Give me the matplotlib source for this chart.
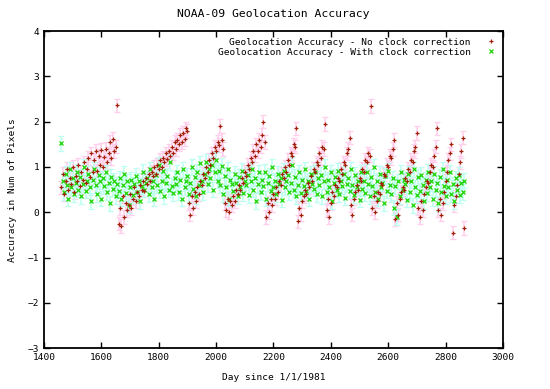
import numpy as np
import matplotlib
matplotlib.use("Agg")
import matplotlib.pyplot as plt

# observation days (day since 1/1/1981)
days = [
    1460, 1465, 1470, 1475, 1480, 1485, 1490, 1495, 1500, 1505,
    1510, 1515, 1520, 1525, 1530, 1535, 1540, 1545, 1550, 1555,
    1560, 1565, 1570, 1575, 1580, 1585, 1590, 1595, 1600, 1605,
    1610, 1615, 1620, 1625, 1630, 1635, 1640, 1645, 1650, 1655,
    1660, 1665, 1670, 1675, 1680, 1685, 1690, 1695, 1700, 1705,
    1710, 1715, 1720, 1725, 1730, 1735, 1740, 1745, 1750, 1755,
    1760, 1765, 1770, 1775, 1780, 1785, 1790, 1795, 1800, 1805,
    1810, 1815, 1820, 1825, 1830, 1835, 1840, 1845, 1850, 1855,
    1860, 1865, 1870, 1875, 1880, 1885, 1890, 1895, 1900, 1905,
    1910, 1915, 1920, 1925, 1930, 1935, 1940, 1945, 1950, 1955,
    1960, 1965, 1970, 1975, 1980, 1985, 1990, 1995, 2000, 2005,
    2010, 2015, 2020, 2025, 2030, 2035, 2040, 2045, 2050, 2055,
    2060, 2065, 2070, 2075, 2080, 2085, 2090, 2095, 2100, 2105,
    2110, 2115, 2120, 2125, 2130, 2135, 2140, 2145, 2150, 2155,
    2160, 2165, 2170, 2175, 2180, 2185, 2190, 2195, 2200, 2205,
    2210, 2215, 2220, 2225, 2230, 2235, 2240, 2245, 2250, 2255,
    2260, 2265, 2270, 2275, 2280, 2285, 2290, 2295, 2300, 2305,
    2310, 2315, 2320, 2325, 2330, 2335, 2340, 2345, 2350, 2355,
    2360, 2365, 2370, 2375, 2380, 2385, 2390, 2395, 2400, 2405,
    2410, 2415, 2420, 2425, 2430, 2435, 2440, 2445, 2450, 2455,
    2460, 2465, 2470, 2475, 2480, 2485, 2490, 2495, 2500, 2505,
    2510, 2515, 2520, 2525, 2530, 2535, 2540, 2545, 2550, 2555,
    2560, 2565, 2570, 2575, 2580, 2585, 2590, 2595, 2600, 2605,
    2610, 2615, 2620, 2625, 2630, 2635, 2640, 2645, 2650, 2655,
    2660, 2665, 2670, 2675, 2680, 2685, 2690, 2695, 2700, 2705,
    2710, 2715, 2720, 2725, 2730, 2735, 2740, 2745, 2750, 2755,
    2760, 2765, 2770, 2775, 2780, 2785, 2790, 2795, 2800, 2805,
    2810, 2815, 2820, 2825, 2830, 2835, 2840, 2845, 2850, 2855,
    2860, 2865,
]

# accuracy without clock correction (sawtooth drift)
no_corr = [
    0.55, 0.85, 0.40, 0.70, 0.95, 0.50, 0.75, 0.62, 1.00, 0.45,
    0.80, 0.68, 1.05, 0.58, 0.90, 0.72, 1.10, 0.65, 0.95, 1.20,
    0.78, 1.30, 0.88, 1.15, 1.35, 0.92, 1.25, 1.05, 1.38, 1.00,
    1.22, 1.40, 1.10, 1.30, 1.55, 1.20, 1.62, 1.35, 1.45, 2.36,
    -0.25, 0.10, -0.30, 0.35, -0.10, 0.20, 0.05, 0.15, 0.40, 0.10,
    0.30, 0.55, 0.25, 0.45, 0.35, 0.60, 0.50, 0.70, 0.48, 0.75,
    0.62, 0.85, 0.70, 0.90, 0.80, 1.00, 0.85, 1.05, 0.95, 1.15,
    1.00, 1.20, 1.10, 1.30, 1.18, 1.35, 1.25, 1.45, 1.30, 1.55,
    1.40, 1.60, 1.50, 1.70, 1.55, 1.75, 1.62, 1.85, 1.80, 0.20,
    -0.05, 0.35, 0.10, 0.45, 0.25, 0.55, 0.40, 0.70, 0.60, 0.85,
    0.75, 1.00, 0.90, 1.15, 1.05, 1.30, 1.20, 1.45, 1.35, 1.55,
    1.48, 1.90, 1.60, 1.40, 0.20, 0.05, 0.30, 0.00, 0.25, 0.15,
    0.35, 0.25, 0.50, 0.40, 0.60, 0.50, 0.75, 0.65, 0.90, 0.80,
    1.05, 0.95, 1.20, 1.10, 1.35, 1.25, 1.50, 1.35, 1.60, 1.45,
    1.70, 2.00, 1.55, -0.10, 0.20, 0.00, 0.30, 0.15, 0.40, 0.30,
    0.55, 0.45, 0.70, 0.60, 0.85, 0.75, 1.00, 0.90, 1.15, 1.05,
    1.30, 1.25, 1.50, 1.45, 1.85, -0.20, 0.10, -0.05, 0.25, 0.35,
    0.50, 0.40, 0.65, 0.55, 0.80, 0.70, 0.95, 0.90, 1.10, 1.05,
    1.30, 1.20, 1.45, 1.40, 1.95, 0.05, 0.30, -0.10, 0.20, 0.45,
    0.35, 0.60, 0.55, 0.75, 0.70, 0.95, 0.85, 1.10, 1.05, 1.30,
    1.40, 1.65, 0.15, -0.05, 0.30, 0.45, 0.60, 0.50, 0.75, 0.70,
    0.95, 0.90, 1.15, 1.10, 1.30, 1.25, 2.35, 0.10, 0.35, 0.00,
    0.25, 0.45, 0.40, 0.65, 0.60, 0.85, 0.80, 1.05, 1.00, 1.25,
    1.20, 1.40, 1.60, -0.15, 0.20, -0.05, 0.30, 0.45, 0.55, 0.50,
    0.75, 0.70, 0.95, 0.90, 1.15, 1.10, 1.35, 1.45, 1.75, 0.10,
    -0.10, 0.25, 0.05, 0.40, 0.55, 0.70, 0.65, 0.90, 1.05, 1.00,
    1.25, 1.45, 1.85, 0.05, 0.30, -0.05, 0.20, 0.45, 0.70, 0.90,
    1.15, 1.30, 1.50, -0.45, 0.15, 0.35, 0.60, 0.85, 1.10, 1.35,
    1.65, -0.35,
]

# accuracy with clock correction
with_corr = [
    1.52, 0.70, 0.45, 0.85, 0.60, 0.30, 0.95, 0.55, 0.75, 0.40,
    0.65, 0.90, 0.50, 0.78, 0.35, 0.62, 1.00, 0.48, 0.70, 0.85,
    0.55, 0.25, 0.72, 0.95, 0.60, 0.40, 0.82, 0.68, 0.30, 0.75,
    0.58, 0.88, 0.45, 0.65, 0.20, 0.78, 0.52, 0.70, 0.35, 0.62,
    0.48, 0.75, 0.30, 0.60, 0.85, 0.42, 0.68, 0.15, 0.55, 0.72,
    0.38, 0.62, 0.80, 0.45, 0.70, 0.25, 0.58, 0.90, 0.50, 0.65,
    0.75, 0.40, 0.95, 0.55, 0.68, 0.30, 0.82, 0.60, 1.05, 0.48,
    0.70, 0.92, 0.35, 0.65, 0.80, 0.50, 1.10, 0.58, 0.42, 0.75,
    0.62, 0.88, 0.45, 0.72, 0.30, 0.95, 0.55, 0.68, 0.80, 0.40,
    0.65, 1.00, 0.52, 0.78, 0.35, 0.90, 0.60, 1.08, 0.70, 0.45,
    0.85, 1.12, 0.62, 0.95, 0.75, 1.05, 0.50, 0.88, 1.15, 0.70,
    0.92, 0.60, 1.02, 0.40, 0.80, 0.55, 0.95, 0.30, 0.72, 0.62,
    0.48, 0.85, 0.65, 0.35, 0.78, 0.55, 0.92, 0.42, 0.70, 0.60,
    0.82, 0.38, 0.68, 0.95, 0.50, 0.75, 0.25, 0.62, 0.88, 0.45,
    0.72, 0.58, 0.90, 0.30, 0.65, 0.80, 0.48, 1.00, 0.55, 0.70,
    0.40, 0.85, 0.62, 0.75, 0.28, 0.92, 0.55, 0.68, 0.82, 0.45,
    0.65, 1.05, 0.50, 0.78, 0.35, 0.60, 0.88, 0.42, 0.72, 0.58,
    0.95, 0.48, 0.70, 0.30, 0.85, 0.62, 0.52, 0.90, 0.40, 0.75,
    0.60, 0.82, 0.35, 0.68, 1.00, 0.45, 0.72, 0.55, 0.88, 0.25,
    0.65, 0.78, 0.50, 0.92, 0.40, 0.70, 0.58, 0.85, 0.32, 0.62,
    0.75, 0.48, 0.95, 0.60, 0.38, 0.82, 0.55, 0.70, 0.28, 0.88,
    0.52, 0.68, 0.42, 0.90, 0.62, 0.35, 0.78, 0.58, 1.00, 0.45,
    0.70, 0.30, 0.85, 0.55, 0.65, 0.20, 0.80, 0.48, 0.92, 0.60,
    0.40, 0.75, 0.10, 0.58, -0.10, 0.68, 0.35, 0.88, 0.50, 0.72,
    0.62, 0.28, 0.85, 0.45, 0.70, 0.15, 0.95, 0.55, 0.38, 0.78,
    0.48, 0.82, 0.60, 0.25, 0.72, 0.42, 0.90, 0.55, 0.68, 0.30,
    0.85, 0.50, 0.65, 0.20, 0.78, 0.45, 0.95, 0.58, 0.35, 0.72,
    0.55, 0.88, 0.40, 0.62, 0.25, 0.75, 0.50, 0.82, 0.38, 0.65,
    0.45, 0.70,
]

# error bar half-heights
err_no_corr = 0.15
err_with_corr = 0.17

plt.rcParams['font.family'] = 'DejaVu Sans Mono'
plt.rcParams['font.size'] = 6.8

fig = plt.figure(figsize=(5.5, 3.89), dpi=100)
ax = fig.add_axes([0.08, 0.105, 0.8345, 0.815])

ax.errorbar(days, no_corr, yerr=err_no_corr, fmt='none', ecolor='#ffd0ec',
            elinewidth=1.2, capsize=2.5, zorder=1)
ax.errorbar(days, with_corr, yerr=err_with_corr, fmt='none', ecolor='#bffff2',
            elinewidth=1.2, capsize=2.5, zorder=2)
ax.plot(days, with_corr, 'x', color='#1ed400', ms=3, mew=0.9, zorder=3,
        label='Geolocation Accuracy - With clock correction')
ax.plot(days, no_corr, '+', color='#a02008', ms=3.5, mew=0.9, zorder=4,
        label='Geolocation Accuracy - No clock correction')

ax.set_xlim(1400, 3000)
ax.set_ylim(-3, 4)
ax.set_xticks(range(1400, 3001, 200))
ax.set_yticks(range(-3, 5))
ax.tick_params(direction='in', top=True, right=True, length=4, width=1)
for s in ax.spines.values():
    s.set_linewidth(1.3)

ax.set_title('NOAA-09 Geolocation Accuracy', pad=10)
ax.set_xlabel('Day since 1/1/1981', labelpad=8)
ax.set_ylabel('Accuracy in Num of Pixels', labelpad=8)

h, l = ax.get_legend_handles_labels()
ax.legend(h[::-1], l[::-1], loc='upper right', frameon=False, markerfirst=False,
          alignment='right', handlelength=1.2, handletextpad=1.5,
          borderaxespad=0.3, labelspacing=0.1)

fig.savefig('out.png', dpi=100)
